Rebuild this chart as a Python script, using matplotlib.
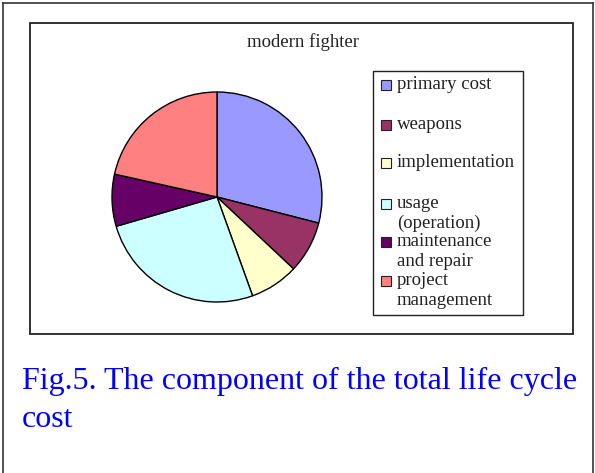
import matplotlib
matplotlib.use("Agg")
import matplotlib.pyplot as plt
from matplotlib.patches import Rectangle
from matplotlib.lines import Line2D

W, H = 595, 473

labels = ["primary cost", "weapons", "implementation", "usage\n(operation)",
          "maintenance\nand repair", "project\nmanagement"]
values = [29, 8, 7.5, 26, 8, 21.5]
colors = ["#9999FF", "#993366", "#FFFFCC", "#CCFFFF", "#660066", "#FF8080"]
legend_y = [85, 125, 163, 204, 242, 281]   # pixel rows of the legend squares

title = "modern fighter"
caption = ["Fig.5. The component of the total life cycle", "cost"]

fig = plt.figure(figsize=(W / 100, H / 100), dpi=100)
fig.patch.set_facecolor("white")

def fx(px):
    return px / W

def fy(py):
    return 1 - py / H

# outer frame (cut at the bottom)
for xs, ys in [((3, 3), (H, 3)), ((3, 593), (3, 3)), ((593, 593), (3, H))]:
    fig.add_artist(Line2D([fx(x) for x in xs], [fy(y) for y in ys],
                          color="#333333", lw=1.2))

# chart area box
fig.add_artist(Rectangle((fx(30), fy(334)), fx(573) - fx(30), fy(23) - fy(334),
                         fill=False, ec="#222222", lw=1.3))

# pie
cx, cy, r = 217, 197, 105
ax = fig.add_axes([fx(cx - r), fy(cy + r), 2 * r / W, 2 * r / H])
ax.pie(values, colors=colors, startangle=90, counterclock=False,
       wedgeprops=dict(edgecolor="black", linewidth=1.0))
ax.set_xlim(-1, 1)
ax.set_ylim(-1, 1)
ax.axis("off")

fig.text(fx(303), fy(47), title, ha="center", va="baseline",
         family="Liberation Serif", fontsize=13.5, color="#222222")

# legend
fig.add_artist(Rectangle((fx(373), fy(315)), fx(523) - fx(373), fy(71) - fy(315),
                         fill=False, ec="#222222", lw=1.0))
sq = 10
for lab, col, y in zip(labels, colors, legend_y):
    fig.add_artist(Rectangle((fx(381), fy(y + sq / 2)), sq / W, sq / H,
                             fc=col, ec="#222222", lw=0.8))
    for i, line in enumerate(lab.split("\n")):
        fig.text(fx(397), fy(y + 4 + i * 20), line, ha="left", va="baseline",
                 family="Liberation Serif", fontsize=13.5, color="#222222")

for i, line in enumerate(caption):
    fig.text(fx(22), fy(389 + i * 38), line, ha="left", va="baseline",
             family="Liberation Serif", fontsize=23, color="#0000FF")

fig.savefig("out.png", dpi=100)
